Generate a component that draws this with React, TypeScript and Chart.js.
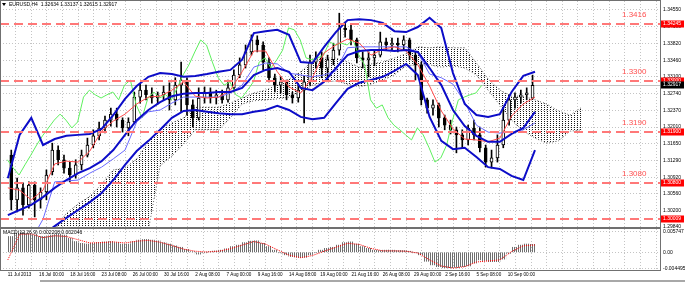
import React, { useEffect, useRef } from "react";
import { Chart, registerables } from "chart.js";

Chart.register(...registerables);

const FONT = "Liberation Sans";

const symbolTitle = "EURUSD,H4";
const lastOpen = 1.32634;
const lastHigh = 1.33137;
const lastLow = 1.32615;
const lastClose = 1.32917;

const timeLabels = [
  "11 Jul 2013", "16 Jul 00:00", "18 Jul 16:00", "23 Jul 08:00", "26 Jul 00:00",
  "30 Jul 16:00", "2 Aug 08:00", "7 Aug 00:00", "9 Aug 16:00", "14 Aug 08:00",
  "19 Aug 00:00", "21 Aug 16:00", "26 Aug 08:00", "29 Aug 00:00", "2 Sep 16:00",
  "5 Sep 08:00", "10 Sep 00:00",
];
const barsPerLabel = 16;
const barsPerGrid = 8;
const barsPerCandle = 3;
const barsPerSample = 6;
const chikouShift = 26;
const visibleBars = 330;

const priceTicks = [1.2984, 1.302, 1.3056, 1.3092, 1.3129, 1.3165, 1.3201, 1.3237, 1.3274, 1.331, 1.3346, 1.3382, 1.3419, 1.3455];
const priceMin = 1.29841;
const priceMax = 1.34745;

const levelValues = [1.34245, 1.33, 1.319, 1.308, 1.30009];
const levelNames = ["1.3416", "1.3300", "1.3190", "1.3080", ""];

// candles (12h groups of H4 bars)
const candleOpen = [
  1.3140, 1.3043, 1.3069, 1.3032, 1.3075, 1.3043, 1.3060, 1.3104, 1.3151, 1.3130,
  1.3112, 1.3097, 1.3119, 1.3140, 1.3162, 1.3182, 1.3199, 1.3216, 1.3229, 1.3216,
  1.3199, 1.3212, 1.3266, 1.3281, 1.3271, 1.3264, 1.3271, 1.3277, 1.3260, 1.3292,
  1.3303, 1.3249, 1.3221, 1.3264, 1.3277, 1.3264, 1.3271, 1.3260, 1.3286, 1.3314,
  1.3336, 1.3364, 1.3390, 1.3379, 1.3342, 1.3308, 1.3292, 1.3299, 1.3271, 1.3264,
  1.3281, 1.3299, 1.3342, 1.3351, 1.3329, 1.3347, 1.3368, 1.3416, 1.3412, 1.3390,
  1.3351, 1.3347, 1.3351, 1.3357, 1.3386, 1.3379, 1.3383, 1.3379, 1.3390, 1.3357,
  1.3336, 1.3260, 1.3242, 1.3249, 1.3221, 1.3205, 1.3195, 1.3184, 1.3173, 1.3199,
  1.3184, 1.3156, 1.3125, 1.3134, 1.3162, 1.3216, 1.3260, 1.3266, 1.3271, lastOpen,
];
const candleClose = [
  1.3043, 1.3069, 1.3032, 1.3075, 1.3043, 1.3060, 1.3097, 1.3151, 1.3130, 1.3112,
  1.3097, 1.3119, 1.3140, 1.3162, 1.3182, 1.3199, 1.3216, 1.3229, 1.3216, 1.3199,
  1.3212, 1.3266, 1.3281, 1.3271, 1.3264, 1.3271, 1.3277, 1.3260, 1.3292, 1.3303,
  1.3249, 1.3221, 1.3264, 1.3277, 1.3264, 1.3271, 1.3260, 1.3286, 1.3314, 1.3336,
  1.3364, 1.3390, 1.3379, 1.3342, 1.3308, 1.3292, 1.3299, 1.3271, 1.3264, 1.3281,
  1.3299, 1.3342, 1.3351, 1.3329, 1.3347, 1.3368, 1.3416, 1.3412, 1.3390, 1.3351,
  1.3347, 1.3351, 1.3357, 1.3386, 1.3379, 1.3383, 1.3379, 1.3390, 1.3357, 1.3336,
  1.3260, 1.3242, 1.3249, 1.3221, 1.3205, 1.3195, 1.3184, 1.3173, 1.3199, 1.3184,
  1.3156, 1.3125, 1.3134, 1.3162, 1.3216, 1.3260, 1.3266, 1.3271, 1.3275, lastClose,
];
const candleHigh = [
  1.3151, 1.3090, 1.3080, 1.3082, 1.3082, 1.3069, 1.3108, 1.3166, 1.3160, 1.3140,
  1.3125, 1.3130, 1.3151, 1.3177, 1.3195, 1.3212, 1.3225, 1.3242, 1.3242, 1.3221,
  1.3221, 1.3277, 1.3294, 1.3292, 1.3286, 1.3277, 1.3290, 1.3297, 1.3308, 1.3342,
  1.3308, 1.3260, 1.3286, 1.3288, 1.3286, 1.3281, 1.3281, 1.3303, 1.3325, 1.3351,
  1.3379, 1.3401, 1.3399, 1.3386, 1.3351, 1.3316, 1.3310, 1.3303, 1.3277, 1.3292,
  1.3312, 1.3357, 1.3364, 1.3364, 1.3357, 1.3383, 1.3448, 1.3429, 1.3425, 1.3394,
  1.3364, 1.3364, 1.3368, 1.3407, 1.3394, 1.3394, 1.3394, 1.3399, 1.3394, 1.3364,
  1.3342, 1.3264, 1.3260, 1.3253, 1.3227, 1.3216, 1.3201, 1.3195, 1.3205, 1.3216,
  1.3201, 1.3162, 1.3151, 1.3184, 1.3244, 1.3271, 1.3275, 1.3281, 1.3286, lastHigh,
];
const candleLow = [
  1.3021, 1.3017, 1.3010, 1.3025, 1.3006, 1.3025, 1.3043, 1.3097, 1.3119, 1.3101,
  1.3082, 1.3090, 1.3108, 1.3136, 1.3156, 1.3173, 1.3188, 1.3203, 1.3201, 1.3190,
  1.3182, 1.3208, 1.3253, 1.3260, 1.3253, 1.3251, 1.3260, 1.3238, 1.3249, 1.3234,
  1.3227, 1.3201, 1.3216, 1.3253, 1.3253, 1.3251, 1.3253, 1.3255, 1.3277, 1.3308,
  1.3329, 1.3357, 1.3364, 1.3325, 1.3299, 1.3277, 1.3275, 1.3260, 1.3253, 1.3255,
  1.3210, 1.3292, 1.3329, 1.3308, 1.3303, 1.3336, 1.3357, 1.3396, 1.3379, 1.3340,
  1.3329, 1.3310, 1.3334, 1.3353, 1.3368, 1.3368, 1.3364, 1.3368, 1.3347, 1.3303,
  1.3249, 1.3231, 1.3227, 1.3201, 1.3195, 1.3186, 1.3145, 1.3156, 1.3162, 1.3173,
  1.3147, 1.3114, 1.3112, 1.3125, 1.3156, 1.3205, 1.3242, 1.3253, 1.3260, lastLow,
];

// indicator lines, one value every 6 H4 bars
const bbUpper = [
  1.3090, 1.3184, 1.3221, 1.3162, 1.3175, 1.3182, 1.3184, 1.3186, 1.3197, 1.3227,
  1.3262, 1.3290, 1.3310, 1.3318, 1.3316, 1.3310, 1.3312, 1.3316, 1.3321, 1.3325,
  1.3347, 1.3405, 1.3409, 1.3412, 1.3401, 1.3342, 1.3340, 1.3375, 1.3407, 1.3433,
  1.3435, 1.3433, 1.3427, 1.3409, 1.3407, 1.3418, 1.3438, 1.3416, 1.3318, 1.3251,
  1.3227, 1.3223, 1.3229, 1.3277, 1.3312, 1.3321,
];
const bbMiddle = [
  1.3010, 1.3021, 1.3032, 1.3049, 1.3069, 1.3086, 1.3101, 1.3112, 1.3127, 1.3151,
  1.3184, 1.3216, 1.3238, 1.3255, 1.3268, 1.3273, 1.3275, 1.3275, 1.3277, 1.3277,
  1.3286, 1.3314, 1.3325, 1.3329, 1.3321, 1.3286, 1.3281, 1.3299, 1.3329, 1.3357,
  1.3366, 1.3368, 1.3368, 1.3366, 1.3368, 1.3364, 1.3329, 1.3292, 1.3238, 1.3203,
  1.3182, 1.3169, 1.3169, 1.3186, 1.3199, 1.3234,
];
const bbLower = [
  1.2934, 1.2930, 1.2930, 1.2967, 1.2986, 1.3004, 1.3021, 1.3038, 1.3058, 1.3086,
  1.3119, 1.3149, 1.3171, 1.3195, 1.3221, 1.3236, 1.3238, 1.3234, 1.3231, 1.3229,
  1.3229, 1.3234, 1.3238, 1.3247, 1.3238, 1.3223, 1.3218, 1.3221, 1.3253, 1.3284,
  1.3297, 1.3303, 1.3310, 1.3323, 1.3338, 1.3314, 1.3223, 1.3171, 1.3153, 1.3156,
  1.3136, 1.3114, 1.3110, 1.3095, 1.3086, 1.3151,
];
const tenkan = [
  1.3069, 1.3064, 1.3043, 1.3064, 1.3121, 1.3127, 1.3125, 1.3149, 1.3192, 1.3214,
  1.3229, 1.3251, 1.3266, 1.3268, 1.3281, 1.3299, 1.3268, 1.3264, 1.3266, 1.3281,
  1.3321, 1.3366, 1.3366, 1.3321, 1.3288, 1.3275, 1.3308, 1.3362, 1.3379, 1.3392,
  1.3383, 1.3357, 1.3370, 1.3375, 1.3366, 1.3336, 1.3290, 1.3236, 1.3197, 1.3175,
  1.3173, 1.3169, 1.3177, 1.3225, 1.3251, 1.3266,
];
const kijun = [
  1.2912, 1.2934, 1.2956, 1.3001, 1.3082, 1.3084, 1.3086, 1.3101, 1.3114, 1.3132,
  1.3151, 1.3212, 1.3234, 1.3238, 1.3253, 1.3266, 1.3266, 1.3266, 1.3266, 1.3275,
  1.3292, 1.3331, 1.3340, 1.3338, 1.3318, 1.3314, 1.3310, 1.3314, 1.3323, 1.3373,
  1.3375, 1.3375, 1.3375, 1.3375, 1.3375, 1.3362, 1.3316, 1.3308, 1.3294, 1.3255,
  1.3205, 1.3190, 1.3188, 1.3190, 1.3195, 1.3210,
];
const senkouA = [
  1.2912, 1.2923, 1.2939, 1.2952, 1.2978, 1.3014, 1.3034, 1.3051, 1.3077, 1.3108,
  1.3112, 1.3132, 1.3169, 1.3197, 1.3210, 1.3221, 1.3244, 1.3244, 1.3244, 1.3253,
  1.3264, 1.3275, 1.3281, 1.3292, 1.3305, 1.3321, 1.3344, 1.3351, 1.3351, 1.3342,
  1.3331, 1.3338, 1.3342, 1.3351, 1.3360, 1.3375, 1.3373, 1.3375, 1.3373, 1.3373,
  1.3340, 1.3305, 1.3281, 1.3268, 1.3268, 1.3260, 1.3251, 1.3236, 1.3227, 1.3244,
];
const senkouB = [
  1.2761, 1.2782, 1.2804, 1.2819, 1.2834, 1.2851, 1.2869, 1.2886, 1.2904, 1.2921,
  1.2939, 1.2956, 1.2978, 1.3117, 1.3138, 1.3164, 1.3195, 1.3195, 1.3195, 1.3221,
  1.3251, 1.3258, 1.3260, 1.3262, 1.3266, 1.3277, 1.3292, 1.3299, 1.3301, 1.3294,
  1.3288, 1.3294, 1.3303, 1.3314, 1.3334, 1.3336, 1.3336, 1.3331, 1.3334, 1.3329,
  1.3314, 1.3281, 1.3249, 1.3216, 1.3192, 1.3177, 1.3166, 1.3171, 1.3192, 1.3195,
];

// MACD main (one per candle) and signal (every 6 bars)
const macdMain = [
  0.0044, 0.0053, 0.0055, 0.0051, 0.0048, 0.0044, 0.0044, 0.0048, 0.0051, 0.0048,
  0.0039, 0.0030, 0.0025, 0.0023, 0.0025, 0.0027, 0.0029, 0.0030, 0.0027, 0.0023,
  0.0023, 0.0030, 0.0034, 0.0036, 0.0034, 0.0032, 0.0027, 0.0023, 0.0018, 0.0014,
  0.0008, 0.0002, -0.0005, -0.0001, 0.0002, 0.0004, 0.0006, 0.0010, 0.0016, 0.0020,
  0.0027, 0.0031, 0.0032, 0.0025, 0.0016, 0.0006, -0.0001, -0.0007, -0.0012, -0.0014,
  -0.0014, -0.0007, -0.0001, 0.0006, 0.0011, 0.0014, 0.0020, 0.0027, 0.0029, 0.0023,
  0.0016, 0.0011, 0.0006, 0.0005, 0.0006, 0.0006, 0.0005, 0.0005, 0.0003, -0.0001,
  -0.0007, -0.0025, -0.0035, -0.0040, -0.0043, -0.0043, -0.0042, -0.0040, -0.0038, -0.0030,
  -0.0021, -0.0023, -0.0026, -0.0026, -0.0019, -0.0003, 0.0014, 0.0020, 0.0023, 0.002208,
];
const macdSignal = [
  -0.0021, 0.0050, 0.0051, 0.0041, 0.0046, 0.0044, 0.0035, 0.0026, 0.0027, 0.0029,
  0.0026, 0.0031, 0.0033, 0.0028, 0.0019, 0.0009, 0.0003, 0.0001, 0.0003, 0.0010,
  0.0020, 0.0030, 0.0023, 0.0007, -0.0008, -0.0015, -0.0009, 0.0003, 0.0014, 0.0025,
  0.0022, 0.0011, 0.0004, 0.0004, 0.0003, -0.0002, -0.0021, -0.0038, -0.0044, -0.0040,
  -0.0027, -0.0024, -0.0021, 0.0002, 0.0018, 0.002046,
];
const macdTitle = "MACD(12,26,9)";
const macdTicks = [-0.004495, 0, 0.005747];
const macdMin = -0.00492;
const macdMax = 0.00648;

const sampled = (arr: number[]) => arr.map((v, j) => ({ x: j * barsPerSample, y: v }));
const candleX = (i: number) => i * barsPerCandle + 1.75;

function makeX(showLabels: boolean) {
  return {
    type: "linear",
    min: 0,
    max: visibleBars,
    afterBuildTicks: (s: any) => {
      const t = [];
      for (let v = 0; v < visibleBars; v += barsPerGrid) t.push({ value: v });
      s.ticks = t;
    },
    afterFit: (s: any) => {
      s.height = showLabels ? 11 : 0;
      s.paddingLeft = 0;
      s.paddingRight = 0;
    },
    ticks: {
      display: showLabels,
      autoSkip: false,
      maxRotation: 0,
      minRotation: 0,
      align: "start",
      padding: 2,
      color: "#000",
      font: { size: 4.6, family: FONT },
      callback: (v: number) => (v % barsPerLabel === 0 ? timeLabels[v / barsPerLabel] ?? "" : ""),
    },
    grid: { color: "#c4c4c4", drawTicks: false, lineWidth: 1 },
    border: { display: false, dash: [1, 2] },
  };
}

function hLine(ctx: CanvasRenderingContext2D, x1: number, x2: number, y: number) {
  ctx.beginPath();
  ctx.moveTo(x1, y);
  ctx.lineTo(x2, y);
  ctx.stroke();
}

export default function App() {
  const mainRef = useRef<HTMLCanvasElement>(null);
  const macdRef = useRef<HTMLCanvasElement>(null);

  useEffect(() => {
    const dot = document.createElement("canvas");
    dot.width = 3;
    dot.height = 2;
    const dctx = dot.getContext("2d")!;
    dctx.fillStyle = "#1a1a1a";
    dctx.fillRect(1, 1, 1, 1);
    const cloudPattern = dctx.createPattern(dot, "repeat");

    const stripe = document.createElement("canvas");
    stripe.width = 2;
    stripe.height = 1;
    const sctx = stripe.getContext("2d")!;
    sctx.fillStyle = "#6e6e6e";
    sctx.fillRect(0, 0, 1, 1);
    const stripePattern = sctx.createPattern(stripe, "repeat");

    const mainDecor = {
      id: "mainDecor",
      beforeDatasetsDraw(chart: any) {
        const { ctx, chartArea: a } = chart;
        const y = Math.round(chart.scales.y.getPixelForValue(lastClose)) + 0.5;
        ctx.save();
        ctx.strokeStyle = "#c0c0c0";
        ctx.lineWidth = 1;
        hLine(ctx, a.left, a.right, y);
        ctx.restore();
      },
      afterDatasetsDraw(chart: any) {
        const { ctx, chartArea: a } = chart;
        ctx.save();
        ctx.beginPath();
        ctx.rect(a.left, a.top, a.right - a.left, a.bottom - a.top);
        ctx.clip();
        levelValues.forEach((v, k) => {
          const y = Math.round(chart.scales.y.getPixelForValue(v));
          ctx.strokeStyle = "#ff7878";
          ctx.lineWidth = 2;
          ctx.setLineDash([9, 5]);
          hLine(ctx, a.left, a.right, y);
          ctx.setLineDash([]);
          if (levelNames[k]) {
            ctx.fillStyle = "#ff5050";
            ctx.font = `8px "${FONT}"`;
            ctx.textAlign = "left";
            ctx.textBaseline = "alphabetic";
            ctx.fillText(levelNames[k], 622, y - 7);
          }
        });
        ctx.restore();
      },
      afterDraw(chart: any) {
        const { ctx, chartArea: a, width } = chart;
        ctx.save();
        const box = (v: number, color: string) => {
          const y = Math.round(chart.scales.y.getPixelForValue(v));
          ctx.fillStyle = color;
          ctx.fillRect(a.right + 1, y - 3.5, width - a.right - 2, 7);
          ctx.fillStyle = "#fff";
          ctx.font = `5px "${FONT}"`;
          ctx.textAlign = "left";
          ctx.textBaseline = "middle";
          ctx.fillText(v.toFixed(5), a.right + 3, y);
        };
        levelValues.forEach((v) => box(v, "#ff0000"));
        box(lastClose, "#000");
        ctx.fillStyle = "#000";
        ctx.beginPath();
        ctx.moveTo(2, 3);
        ctx.lineTo(6, 3);
        ctx.lineTo(4, 6);
        ctx.closePath();
        ctx.fill();
        ctx.font = `5px "${FONT}"`;
        ctx.textAlign = "left";
        ctx.textBaseline = "middle";
        ctx.fillText(
          `${symbolTitle}  ${lastOpen.toFixed(5)} ${lastHigh.toFixed(5)} ${lastLow.toFixed(5)} ${lastClose.toFixed(5)}`,
          9,
          5
        );
        ctx.strokeStyle = "#707070";
        ctx.lineWidth = 1;
        ctx.strokeRect(a.left + 0.5, a.top - 0.5, a.right - a.left, a.bottom - a.top + 1);
        ctx.restore();
      },
    };

    const mainChart = new Chart(mainRef.current!, {
      type: "bar",
      data: {
        datasets: [
          {
            type: "line", label: "Senkou A", data: sampled(senkouA),
            borderColor: "#606060", borderWidth: 1, borderDash: [1, 2], pointRadius: 0, order: 10, clip: 0,
          },
          {
            type: "line", label: "Senkou B", data: sampled(senkouB),
            borderColor: "#606060", borderWidth: 1, borderDash: [1, 2], pointRadius: 0,
            fill: "-1", backgroundColor: cloudPattern, order: 9, clip: 0,
          },
          {
            type: "bar", label: "Wicks",
            data: candleHigh.map((h, i) => ({ x: candleX(i), y: [candleLow[i], h] })),
            backgroundColor: "#000", barThickness: 1, grouped: false, order: 6, clip: 0,
          },
          {
            type: "bar", label: "Bodies",
            data: candleOpen.map((o, i) => ({ x: candleX(i), y: [o, candleClose[i]] })),
            backgroundColor: candleOpen.map((o, i) => (candleClose[i] >= o ? "#ffffff" : "#000000")),
            borderColor: "#000", borderWidth: 1, borderSkipped: false, barThickness: 3, grouped: false, order: 5, clip: 0,
          },
          {
            type: "line", label: "Chikou",
            data: candleClose.map((c, i) => ({ x: candleX(i) - chikouShift, y: c })),
            borderColor: "#5ef05e", borderWidth: 1, pointRadius: 0, order: 4, clip: 0,
          },
          {
            type: "line", label: "Kijun", data: sampled(kijun),
            borderColor: "#6a6aff", borderWidth: 1, pointRadius: 0, order: 3, clip: 0,
          },
          {
            type: "line", label: "Tenkan", data: sampled(tenkan),
            borderColor: "#ff4a4a", borderWidth: 1, pointRadius: 0, order: 2, clip: 0,
          },
          {
            type: "line", label: "BB lower", data: sampled(bbLower),
            borderColor: "#0c0cc8", borderWidth: 2, pointRadius: 0, order: 1, clip: 0,
          },
          {
            type: "line", label: "BB middle", data: sampled(bbMiddle),
            borderColor: "#0c0cc8", borderWidth: 2, pointRadius: 0, order: 1, clip: 0,
          },
          {
            type: "line", label: "BB upper", data: sampled(bbUpper),
            borderColor: "#0c0cc8", borderWidth: 2, pointRadius: 0, order: 1, clip: 0,
          },
        ],
      } as any,
      options: {
        responsive: false,
        animation: false,
        devicePixelRatio: 1,
        events: [],
        layout: { padding: { top: 1, bottom: 1, left: 0, right: 0 } },
        plugins: { legend: { display: false }, tooltip: { enabled: false } },
        scales: {
          x: makeX(false),
          y: {
            type: "linear",
            position: "right",
            min: priceMin,
            max: priceMax,
            afterBuildTicks: (s: any) => {
              s.ticks = priceTicks.map((v) => ({ value: v }));
            },
            afterFit: (s: any) => {
              s.width = 25;
              s.paddingTop = 0;
              s.paddingBottom = 0;
            },
            ticks: {
              padding: 3,
              color: "#000",
              font: { size: 5, family: FONT },
              callback: (v: number) => Number(v).toFixed(5),
            },
            grid: { color: "#c4c4c4", drawTicks: false },
            border: { display: true, color: "#000", dash: [1, 2] },
          },
        },
      } as any,
      plugins: [mainDecor],
    });

    const macdDecor = {
      id: "macdDecor",
      afterDraw(chart: any) {
        const { ctx, chartArea: a } = chart;
        ctx.save();
        ctx.fillStyle = "#000";
        ctx.font = `5px "${FONT}"`;
        ctx.textAlign = "left";
        ctx.textBaseline = "middle";
        ctx.fillText(
          `${macdTitle} ${macdMain[macdMain.length - 1].toFixed(6)} ${macdSignal[macdSignal.length - 1].toFixed(6)}`,
          3,
          a.top + 4
        );
        ctx.strokeStyle = "#707070";
        ctx.lineWidth = 1;
        ctx.strokeRect(a.left + 0.5, a.top - 0.5, a.right - a.left, a.bottom - a.top + 1);
        ctx.restore();
      },
    };

    const macdChart = new Chart(macdRef.current!, {
      type: "bar",
      data: {
        datasets: [
          {
            type: "line", label: "Signal", data: sampled(macdSignal),
            borderColor: "#ff0000", borderWidth: 1, borderDash: [1, 1], pointRadius: 0, order: 1, clip: 0,
          },
          {
            type: "bar", label: "MACD",
            data: macdMain.map((v, i) => ({ x: i * barsPerCandle + 1.5, y: v })),
            backgroundColor: stripePattern, barThickness: 6, grouped: false, order: 2, clip: 0,
          },
        ],
      } as any,
      options: {
        responsive: false,
        animation: false,
        devicePixelRatio: 1,
        events: [],
        layout: { padding: { top: 1, bottom: 1, left: 0, right: 0 } },
        plugins: { legend: { display: false }, tooltip: { enabled: false } },
        scales: {
          x: makeX(true),
          y: {
            type: "linear",
            position: "right",
            min: macdMin,
            max: macdMax,
            afterBuildTicks: (s: any) => {
              s.ticks = macdTicks.map((v) => ({ value: v }));
            },
            afterFit: (s: any) => {
              s.width = 25;
              s.paddingTop = 0;
              s.paddingBottom = 0;
            },
            ticks: {
              padding: 3,
              color: "#000",
              font: { size: 5, family: FONT },
              callback: (v: number) => (v === 0 ? "0.00" : Number(v).toFixed(6)),
            },
            grid: { color: "#c4c4c4", drawTicks: false },
            border: { display: true, color: "#000", dash: [1, 2] },
          },
        },
      } as any,
      plugins: [macdDecor],
    });

    return () => {
      mainChart.destroy();
      macdChart.destroy();
    };
  }, []);

  return (
    <div style={{ position: "absolute", left: 0, top: 0, width: 685, height: 282, background: "#fff", overflow: "hidden" }}>
      <canvas ref={mainRef} width={685} height={228} style={{ position: "absolute", left: 0, top: 0, width: 685, height: 228 }} />
      <canvas ref={macdRef} width={685} height={54} style={{ position: "absolute", left: 0, top: 228, width: 685, height: 54 }} />
      <div style={{ position: "absolute", left: 40, top: 280, width: 645, height: 2, background: "#a8a8a8" }} />
    </div>
  );
}
